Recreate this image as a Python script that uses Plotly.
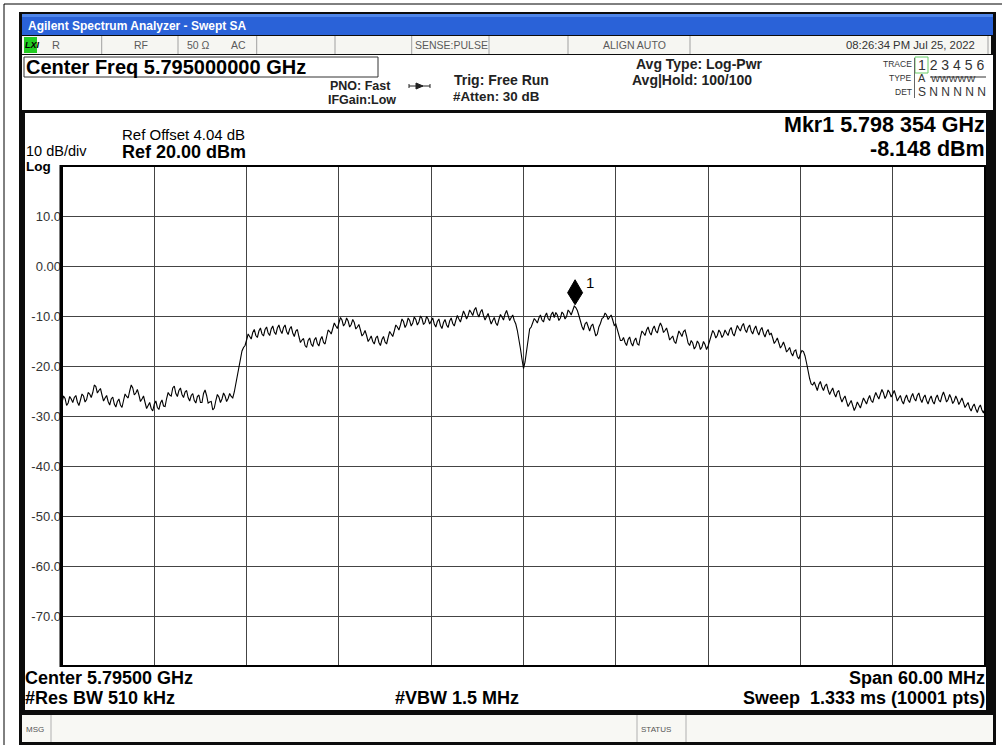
import plotly.graph_objects as go

W, H = 1002, 745
FONT = "Liberation Sans, Arial, sans-serif"

# ---------------- data ----------------
start_ghz = 5.765
span_ghz = 0.060
freq_offset_mhz = [
    0.0, 0.2, 0.4, 0.6, 0.8, 1.0, 1.2, 1.4, 1.6, 1.8,
    2.0, 2.2, 2.4, 2.6, 2.8, 3.0, 3.2, 3.4, 3.6, 3.8,
    4.0, 4.2, 4.4, 4.6, 4.8, 5.0, 5.2, 5.4, 5.6, 5.8,
    6.0, 6.2, 6.4, 6.6, 6.8, 7.0, 7.2, 7.4, 7.6, 7.8,
    8.0, 8.2, 8.4, 8.6, 8.8, 9.0, 9.2, 9.4, 9.6, 9.8,
    10.0, 10.2, 10.4, 10.6, 10.8, 11.0, 11.2, 11.4, 11.6, 11.8,
    12.0, 12.2, 12.4, 12.6, 12.8, 13.0, 13.2, 13.4, 13.6, 13.8,
    14.0, 14.2, 14.4, 14.6, 14.8, 15.0, 15.2, 15.4, 15.6, 15.8,
    16.0, 16.2, 16.4, 16.6, 16.8, 17.0, 17.2, 17.4, 17.6, 17.8,
    18.0, 18.2, 18.4, 18.6, 18.8, 19.0, 19.2, 19.4, 19.6, 19.8,
    20.0, 20.2, 20.4, 20.6, 20.8, 21.0, 21.2, 21.4, 21.6, 21.8,
    22.0, 22.2, 22.4, 22.6, 22.8, 23.0, 23.2, 23.4, 23.6, 23.8,
    24.0, 24.2, 24.4, 24.6, 24.8, 25.0, 25.2, 25.4, 25.6, 25.8,
    26.0, 26.2, 26.4, 26.6, 26.8, 27.0, 27.2, 27.4, 27.6, 27.8,
    28.0, 28.2, 28.4, 28.6, 28.8, 29.0, 29.2, 29.4, 29.6, 29.8,
    30.0, 30.2, 30.4, 30.6, 30.8, 31.0, 31.2, 31.4, 31.6, 31.8,
    32.0, 32.2, 32.4, 32.6, 32.8, 33.0, 33.2, 33.4, 33.6, 33.8,
    34.0, 34.2, 34.4, 34.6, 34.8, 35.0, 35.2, 35.4, 35.6, 35.8,
    36.0, 36.2, 36.4, 36.6, 36.8, 37.0, 37.2, 37.4, 37.6, 37.8,
    38.0, 38.2, 38.4, 38.6, 38.8, 39.0, 39.2, 39.4, 39.6, 39.8,
    40.0, 40.2, 40.4, 40.6, 40.8, 41.0, 41.2, 41.4, 41.6, 41.8,
    42.0, 42.2, 42.4, 42.6, 42.8, 43.0, 43.2, 43.4, 43.6, 43.8,
    44.0, 44.2, 44.4, 44.6, 44.8, 45.0, 45.2, 45.4, 45.6, 45.8,
    46.0, 46.2, 46.4, 46.6, 46.8, 47.0, 47.2, 47.4, 47.6, 47.8,
    48.0, 48.2, 48.4, 48.6, 48.8, 49.0, 49.2, 49.4, 49.6, 49.8,
    50.0, 50.2, 50.4, 50.6, 50.8, 51.0, 51.2, 51.4, 51.6, 51.8,
    52.0, 52.2, 52.4, 52.6, 52.8, 53.0, 53.2, 53.4, 53.6, 53.8,
    54.0, 54.2, 54.4, 54.6, 54.8, 55.0, 55.2, 55.4, 55.6, 55.8,
    56.0, 56.2, 56.4, 56.6, 56.8, 57.0, 57.2, 57.4, 57.6, 57.8,
    58.0, 58.2, 58.4, 58.6, 58.8, 59.0, 59.2, 59.4, 59.6, 59.8,
    60.0,
]
level_dbm = [
    -27.3, -26.5, -27.4, -26.6, -26.3, -27.2, -26.8, -26.0, -26.7, -25.6,
    -25.3, -24.1, -24.9, -25.8, -26.4, -27.1, -26.6, -27.6, -27.1, -27.8,
    -26.9, -26.1, -25.0, -24.4, -25.4, -25.8, -26.6, -27.3, -27.9, -28.5,
    -27.6, -28.3, -27.4, -28.0, -26.5, -25.8, -24.4, -25.5, -24.9, -25.7,
    -25.2, -26.3, -25.9, -26.9, -26.1, -27.3, -25.5, -25.9, -27.2, -28.8,
    -26.9, -26.2, -26.6, -26.0, -26.5, -26.1, -25.2, -21.5, -18.4, -16.3,
    -14.8, -14.1, -13.3, -13.9, -13.0, -13.6, -12.7, -13.4, -12.6, -13.2,
    -12.4, -12.9, -12.3, -13.1, -12.6, -13.4, -13.0, -14.1, -14.8, -15.9,
    -14.9, -15.6, -14.8, -15.5, -14.7, -15.3, -14.2, -13.1, -12.5, -12.0,
    -11.4, -10.8, -11.5, -11.0, -11.7, -11.3, -12.2, -12.8, -13.6, -13.9,
    -14.6, -15.1, -14.4, -15.3, -14.7, -15.2, -14.3, -13.6, -13.0, -12.2,
    -11.8, -11.1, -11.7, -10.9, -11.4, -10.7, -11.2, -10.5, -11.3, -10.6,
    -11.0, -11.6, -11.1, -11.9, -11.3, -11.8, -11.0, -11.5, -10.9, -10.6,
    -10.1, -9.7, -9.9, -9.3, -8.8, -9.5, -9.2, -9.9, -10.1, -10.6,
    -10.9, -11.4, -10.7, -10.2, -9.6, -9.9, -10.3, -10.9, -12.9, -16.5,
    -20.5, -17.3, -12.6, -11.4, -10.9, -10.4, -10.8, -10.0, -10.5, -9.7,
    -10.3, -9.8, -10.4, -9.6, -10.1, -9.2, -8.9, -8.3, -9.9, -12.1,
    -11.6, -12.4, -12.0, -12.8, -13.6, -11.5, -10.3, -9.8, -10.2, -10.8,
    -11.6, -13.8, -14.9, -15.3, -14.7, -15.4, -14.9, -15.6, -14.2, -13.4,
    -12.8, -13.3, -12.6, -13.0, -12.2, -12.1, -12.9, -13.5, -14.4, -15.1,
    -14.2, -13.5, -13.1, -14.0, -15.9, -15.4, -16.1, -15.5, -16.2, -15.7,
    -16.0, -14.0, -13.4, -13.9, -13.3, -13.8, -13.4, -12.8, -13.5, -12.9,
    -12.5, -12.0, -12.7, -12.3, -13.0, -12.6, -13.1, -12.8, -13.5, -13.2,
    -13.8, -14.4, -15.0, -15.4, -15.9, -16.1, -16.8, -17.4, -17.0, -18.1,
    -17.6, -17.1, -19.4, -22.5, -23.8, -24.3, -23.7, -24.2, -24.0, -24.8,
    -25.0, -25.5, -25.2, -26.3, -26.5, -27.1, -27.5, -27.9, -28.2, -27.8,
    -27.4, -27.0, -26.6, -26.9, -26.2, -26.0, -25.6, -25.4, -25.9, -25.3,
    -25.6, -25.9, -26.4, -27.0, -26.5, -26.8, -26.2, -26.5, -25.9, -26.6,
    -26.3, -26.9, -26.6, -27.1, -26.4, -26.8, -26.0, -26.1, -26.7, -26.4,
    -27.0, -26.7, -27.1, -27.3, -27.8, -28.4, -28.1, -28.6, -28.3, -28.8,
    -28.5,
]
# in-between sweep points (noise read between the samples above)
freq_mid_offset_mhz = [
    0.1, 0.3, 0.5, 0.7, 0.9, 1.1, 1.3, 1.5, 1.7, 1.9,
    2.1, 2.3, 2.5, 2.7, 2.9, 3.1, 3.3, 3.5, 3.7, 3.9,
    4.1, 4.3, 4.5, 4.7, 4.9, 5.1, 5.3, 5.5, 5.7, 5.9,
    6.1, 6.3, 6.5, 6.7, 6.9, 7.1, 7.3, 7.5, 7.7, 7.9,
    8.1, 8.3, 8.5, 8.7, 8.9, 9.1, 9.3, 9.5, 9.7, 9.9,
    10.1, 10.3, 10.5, 10.7, 10.9, 11.1, 11.3, 11.5, 11.7, 11.9,
    12.1, 12.3, 12.5, 12.7, 12.9, 13.1, 13.3, 13.5, 13.7, 13.9,
    14.1, 14.3, 14.5, 14.7, 14.9, 15.1, 15.3, 15.5, 15.7, 15.9,
    16.1, 16.3, 16.5, 16.7, 16.9, 17.1, 17.3, 17.5, 17.7, 17.9,
    18.1, 18.3, 18.5, 18.7, 18.9, 19.1, 19.3, 19.5, 19.7, 19.9,
    20.1, 20.3, 20.5, 20.7, 20.9, 21.1, 21.3, 21.5, 21.7, 21.9,
    22.1, 22.3, 22.5, 22.7, 22.9, 23.1, 23.3, 23.5, 23.7, 23.9,
    24.1, 24.3, 24.5, 24.7, 24.9, 25.1, 25.3, 25.5, 25.7, 25.9,
    26.1, 26.3, 26.5, 26.7, 26.9, 27.1, 27.3, 27.5, 27.7, 27.9,
    28.1, 28.3, 28.5, 28.7, 28.9, 29.1, 29.3, 29.5, 29.7, 29.9,
    30.1, 30.3, 30.5, 30.7, 30.9, 31.1, 31.3, 31.5, 31.7, 31.9,
    32.1, 32.3, 32.5, 32.7, 32.9, 33.1, 33.3, 33.5, 33.7, 33.9,
    34.1, 34.3, 34.5, 34.7, 34.9, 35.1, 35.3, 35.5, 35.7, 35.9,
    36.1, 36.3, 36.5, 36.7, 36.9, 37.1, 37.3, 37.5, 37.7, 37.9,
    38.1, 38.3, 38.5, 38.7, 38.9, 39.1, 39.3, 39.5, 39.7, 39.9,
    40.1, 40.3, 40.5, 40.7, 40.9, 41.1, 41.3, 41.5, 41.7, 41.9,
    42.1, 42.3, 42.5, 42.7, 42.9, 43.1, 43.3, 43.5, 43.7, 43.9,
    44.1, 44.3, 44.5, 44.7, 44.9, 45.1, 45.3, 45.5, 45.7, 45.9,
    46.1, 46.3, 46.5, 46.7, 46.9, 47.1, 47.3, 47.5, 47.7, 47.9,
    48.1, 48.3, 48.5, 48.7, 48.9, 49.1, 49.3, 49.5, 49.7, 49.9,
    50.1, 50.3, 50.5, 50.7, 50.9, 51.1, 51.3, 51.5, 51.7, 51.9,
    52.1, 52.3, 52.5, 52.7, 52.9, 53.1, 53.3, 53.5, 53.7, 53.9,
    54.1, 54.3, 54.5, 54.7, 54.9, 55.1, 55.3, 55.5, 55.7, 55.9,
    56.1, 56.3, 56.5, 56.7, 56.9, 57.1, 57.3, 57.5, 57.7, 57.9,
    58.1, 58.3, 58.5, 58.7, 58.9, 59.1, 59.3, 59.5, 59.7, 59.9,
]
level_mid_dbm = [
    -26.0, -27.9, -26.1, -27.3, -25.9, -27.9, -25.6, -27.2, -25.3, -26.3,
    -23.8, -25.4, -24.5, -27.0, -25.9, -27.8, -26.2, -28.2, -26.6, -28.3,
    -25.6, -26.4, -23.8, -25.8, -24.7, -27.1, -26.0, -28.5, -27.3, -29.0,
    -27.0, -28.7, -26.8, -28.1, -25.3, -26.0, -24.0, -26.1, -24.4, -26.3,
    -24.9, -27.0, -25.5, -27.4, -25.8, -27.3, -24.8, -27.4, -27.1, -28.4,
    -25.7, -27.3, -25.4, -27.1, -25.5, -26.4, -23.6, -19.8, -17.0, -15.9,
    -13.6, -14.6, -12.7, -14.3, -12.4, -14.0, -12.2, -13.9, -12.0, -13.7,
    -11.8, -13.5, -11.8, -13.7, -12.1, -14.1, -12.7, -15.3, -14.5, -16.3,
    -14.4, -16.1, -14.3, -16.0, -14.1, -15.6, -12.8, -13.6, -11.4, -12.5,
    -10.3, -12.0, -10.4, -12.2, -10.7, -12.6, -11.7, -14.0, -12.9, -15.1,
    -14.0, -15.6, -14.0, -15.9, -14.1, -15.6, -13.1, -14.1, -11.8, -12.8,
    -10.6, -12.3, -10.4, -12.0, -10.2, -11.8, -10.0, -11.7, -10.1, -11.6,
    -10.4, -12.2, -10.6, -12.5, -10.7, -12.3, -10.4, -12.0, -9.9, -11.2,
    -9.0, -10.6, -8.8, -9.9, -8.3, -10.2, -8.7, -10.8, -9.5, -11.6,
    -10.3, -11.9, -9.7, -10.8, -8.9, -10.9, -9.8, -11.6, -14.5, -18.6,
    -19.2, -14.6, -12.2, -10.5, -11.4, -9.8, -11.2, -9.4, -10.9, -9.2,
    -9.3, -10.9, -9.2, -10.6, -8.8, -9.8, -8.0, -8.9, -11.3, -12.8,
    -11.2, -13.0, -11.6, -14.0, -12.2, -10.5, -9.4, -10.7, -9.8, -11.9,
    -12.6, -14.9, -14.3, -15.9, -14.2, -16.0, -14.4, -15.8, -13.0, -13.9,
    -12.2, -13.8, -12.0, -13.4, -11.4, -13.3, -12.4, -14.8, -14.0, -15.5,
    -13.0, -14.1, -12.8, -15.4, -14.9, -16.6, -15.0, -16.7, -15.1, -16.7,
    -14.8, -12.9, -14.4, -12.8, -14.3, -12.8, -13.9, -12.3, -14.0, -11.9,
    -13.0, -11.5, -13.3, -11.8, -13.6, -12.0, -13.8, -12.3, -14.2, -12.7,
    -13.4, -15.5, -14.4, -16.4, -15.2, -17.2, -16.3, -18.0, -16.8, -18.6,
    -16.9, -18.0, -21.2, -23.6, -23.2, -24.9, -23.1, -24.9, -23.6, -25.7,
    -24.4, -26.2, -24.9, -27.2, -26.0, -28.1, -26.9, -28.9, -27.2, -28.4,
    -26.4, -27.6, -25.9, -27.3, -25.3, -26.6, -24.7, -26.5, -24.8, -26.2,
    -24.9, -27.0, -25.9, -27.6, -25.8, -27.3, -25.5, -27.0, -25.4, -27.3,
    -25.8, -27.6, -26.0, -27.6, -25.8, -27.2, -25.2, -27.2, -25.7, -27.5,
    -26.0, -27.7, -26.4, -28.3, -27.3, -29.0, -27.6, -29.3, -27.8, -29.4,
]
marker_freq_ghz = 5.798354
marker_level_dbm = -8.148
ref_level = 20.0
db_per_div = 10.0
y_tick_vals = [10, 0, -10, -20, -30, -40, -50, -60, -70]
y_tick_text = ["10.0", "0.00", "-10.0", "-20.0", "-30.0", "-40.0", "-50.0", "-60.0", "-70.0"]

# merge both sample sets into one sweep, ordered by frequency
sweep = sorted(list(zip(freq_offset_mhz, level_dbm)) + list(zip(freq_mid_offset_mhz, level_mid_dbm)))
freq_ghz = [start_ghz + f / 1000.0 for f, _ in sweep]
trace_dbm = [v for _, v in sweep]

# ---------------- helpers (pixel -> paper) ----------------
def px(x):
    return x / W

def py(y):
    return 1 - y / H

shapes = []
annots = []

def rect(x0, y0, x1, y1, fill=None, color=None, lw=0, layer="below"):
    shapes.append(dict(type="rect", xref="paper", yref="paper",
                       x0=px(x0), x1=px(x1), y0=py(y1), y1=py(y0),
                       fillcolor=fill if fill else "rgba(0,0,0,0)",
                       line=dict(color=color if color else "rgba(0,0,0,0)", width=lw),
                       layer=layer))

def line(x0, y0, x1, y1, color="#000", lw=1, layer="below"):
    shapes.append(dict(type="line", xref="paper", yref="paper",
                       x0=px(x0), x1=px(x1), y0=py(y0), y1=py(y1),
                       line=dict(color=color, width=lw), layer=layer))

def text(x, y, s, size=12, bold=False, color="#000", anchor="left", family=FONT, italic=False):
    annots.append(dict(xref="paper", yref="paper", x=px(x), y=py(y), text=s,
                       showarrow=False, xanchor=anchor, yanchor="middle",
                       borderpad=0,
                       font=dict(size=size, color=color, family=family,
                                 weight="bold" if bold else "normal",
                                 style="italic" if italic else "normal")))

# ---------------- outer page frame ----------------
line(4, 4, 1002, 4, "#000", 1)
line(4, 4, 4, 745, "#000", 1)

# window body
rect(19, 12, 996, 745, fill="#0c0c0c")
# title bar
rect(22, 14, 993, 35, fill="#2a62d8")
rect(22, 14, 993, 17, fill="#4f86ea")
text(27, 26, "Agilent Spectrum Analyzer - Swept SA", 12, True, "#ffffff")

# status row
rect(22, 36, 991, 54, fill="#f6f6f2")
for sx in [101.7, 178, 256.7, 335, 411.7, 489, 568, 690, 988]:
    line(sx, 36, sx, 54, "#a0a0a0", 1)
rect(24, 37, 37, 53, fill="#22cc22")
text(24, 45, "LXI", 9, True, "#000", italic=True)
st_col = "#5a5a5a"
text(51, 45, "R", 11, False, st_col)
text(133, 45, "RF", 10.5, False, st_col)
text(186, 45, "50 Ω", 10.5, False, st_col)
text(230, 45, "AC", 10.5, False, st_col)
text(451, 45, "SENSE:PULSE", 10.5, False, st_col, anchor="center")
text(634, 45, "ALIGN AUTO", 10.5, False, st_col, anchor="center")
text(976, 45, "08:26:34 PM Jul 25, 2022", 11.3, False, "#333333", anchor="right")

# header panel
rect(22, 55, 993, 110, fill="#ffffff")
rect(24, 57, 378, 77, fill="#ffffff", color="#333333", lw=1)
text(25, 67, "Center Freq 5.795000000 GHz", 20, True, "#000")
text(392, 86, "PNO: Fast", 12.5, True, "#222", anchor="right")
text(397, 100, "IFGain:Low", 12.5, True, "#222", anchor="right")
# trigger-arrow glyph
line(409, 86, 430, 86, "#222", 1, layer="above")
line(409, 84, 409, 88, "#222", 1, layer="above")
line(430, 84, 430, 88, "#222", 1, layer="above")
shapes.append(dict(type="path", xref="paper", yref="paper",
                   path="M {} {} L {} {} L {} {} Z".format(px(416), py(83), px(423), py(86), px(416), py(89)),
                   fillcolor="#222", line=dict(color="#222", width=1), layer="above"))
text(453, 80, "Trig: Free Run", 14, True, "#222")
text(452, 96, "#Atten: 30 dB", 13.4, True, "#222")
text(635, 64, "Avg Type: Log-Pwr", 14, True, "#222")
text(631, 80, "Avg|Hold: 100/100", 14, True, "#222")
text(913, 64, "TRACE", 8.5, False, "#333", anchor="right")
text(913, 78, "TYPE", 8.5, False, "#333", anchor="right")
text(913, 92, "DET", 8.5, False, "#333", anchor="right")
rect(915, 57, 928, 73, fill="#ffffff", color="#66cc66", lw=1)
line(914.5, 58, 914.5, 98, "#666", 1)
text(917, 65, "1 2 3 4 5 6", 14, False, "#333")
text(917, 78, "A", 11, False, "#333")
text(930, 78, "WWWWW", 9.4, False, "#333")
line(930, 77, 986, 77, "#333", 1, layer="above")
text(917, 92, "S N N N N N", 12, False, "#333")

# plot panel
rect(25, 113, 986, 710, fill="#ffffff")
# message bar
rect(22, 715, 993, 742, fill="#f8f8f4")
line(51, 715, 51, 742, "#b0b0b0", 1)
line(637, 715, 637, 742, "#b0b0b0", 1)
line(686, 715, 686, 742, "#b0b0b0", 1)
text(25, 729, "MSG", 8, False, "#555")
text(640, 729, "STATUS", 8, False, "#555")

# panel texts
text(986, 125.5, "Mkr1 5.798 354 GHz", 21.5, True, "#000", anchor="right")
text(986, 149, "-8.148 dBm", 21.5, True, "#000", anchor="right")
text(121, 134, "Ref Offset 4.04 dB", 15, False, "#000")
text(121, 152, "Ref 20.00 dBm", 18, True, "#000")
text(25, 150.5, "10 dB/div", 14.5, False, "#000")
text(25, 166.5, "Log", 13.5, True, "#000")
text(24, 678, "Center 5.79500 GHz", 18, True, "#000")
text(24, 698, "#Res BW 510 kHz", 18, True, "#000")
text(457, 698, "#VBW 1.5 MHz", 18, True, "#000", anchor="center")
text(986, 678, "Span 60.00 MHz", 18, True, "#000", anchor="right")
text(986, 698, "Sweep  1.333 ms (10001 pts)", 18, True, "#000", anchor="right")

# plot border (drawn above the grid)
PX0, PX1, PY0, PY1 = 62, 985, 166, 666
shapes.append(dict(type="rect", xref="paper", yref="paper",
                   x0=px(PX0), x1=px(PX1), y0=py(PY1), y1=py(PY0),
                   line=dict(color="#000", width=2), layer="above"))
line(61, 165, 61, 667, "#000", 3, layer="above")

# marker diamond (pixel-sized, anchored on the marker point)
shapes.append(dict(type="path", xref="x", yref="y",
                   xsizemode="pixel", ysizemode="pixel",
                   xanchor=marker_freq_ghz, yanchor=marker_level_dbm,
                   path="M 0 2 L 7.5 14 L 0 27 L -7.5 14 Z",
                   fillcolor="#000", line=dict(color="#000", width=1), layer="above"))
annots.append(dict(xref="x", yref="y", x=marker_freq_ghz, y=marker_level_dbm,
                   text="1", showarrow=False, xanchor="left", yanchor="middle",
                   xshift=9, yshift=24, font=dict(size=15, color="#000000", family=FONT)))

fig = go.Figure()
fig.add_trace(go.Scatter(x=freq_ghz, y=trace_dbm, mode="lines",
                         line=dict(color="#000000", width=1.1), hoverinfo="skip",
                         showlegend=False))

fig.update_layout(
    width=W, height=H,
    margin=dict(l=0, r=0, t=0, b=0),
    paper_bgcolor="#ffffff", plot_bgcolor="#ffffff",
    shapes=shapes, annotations=annots,
    showlegend=False,
    xaxis=dict(domain=[px(PX0), px(PX1)], range=[start_ghz, start_ghz + span_ghz],
               tick0=start_ghz, dtick=span_ghz / 10, showticklabels=False, ticks="",
               showgrid=True, gridcolor="#444444", gridwidth=1, zeroline=False,
               showline=False, fixedrange=True),
    yaxis=dict(domain=[py(PY1), py(PY0)], range=[ref_level - 10 * db_per_div, ref_level],
               tickvals=y_tick_vals, ticktext=y_tick_text,
               tickfont=dict(size=13, color="#333333", family=FONT),
               ticks="", showgrid=True, gridcolor="#444444", gridwidth=1,
               zeroline=False, showline=False, fixedrange=True),
)

fig.write_html("out.html", config={"displayModeBar": False},
               post_script="document.body.style.margin='0px';document.body.style.overflow='hidden';")
